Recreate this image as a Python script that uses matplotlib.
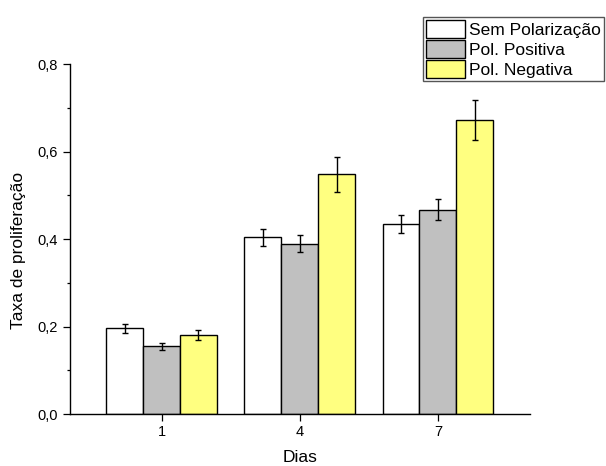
import numpy as np
import matplotlib
matplotlib.use("Agg")
import matplotlib.pyplot as plt
from matplotlib.ticker import MultipleLocator, FuncFormatter

plt.rcParams['font.family'] = ['Liberation Sans', 'DejaVu Sans']

# data
days = [1, 4, 7]
series = ['Sem Polarização', 'Pol. Positiva', 'Pol. Negativa']
sem_pol = [0.196, 0.404, 0.434]
sem_pol_err = [0.010, 0.020, 0.021]
pol_pos = [0.155, 0.390, 0.467]
pol_pos_err = [0.008, 0.020, 0.024]
pol_neg = [0.181, 0.548, 0.672]
pol_neg_err = [0.012, 0.039, 0.046]

colors = ['white', '#C0C0C0', '#FFFF80']

fig = plt.figure(figsize=(6.06, 4.66), dpi=100)
ax = fig.add_axes([69.5/606, 52/466, (530-69.5)/606, (414-64.3)/466])

x = np.array(days, dtype=float)
w = 0.8
vals = [sem_pol, pol_pos, pol_neg]
errs = [sem_pol_err, pol_pos_err, pol_neg_err]
for i in range(3):
    ax.bar(x + (i - 1) * w, vals[i], w, yerr=errs[i], color=colors[i],
           edgecolor='black', linewidth=1.0, label=series[i],
           error_kw=dict(ecolor='black', elinewidth=1.0, capsize=2.3, capthick=1.0))

ax.set_xlim(-1, 9)
ax.set_ylim(0, 0.8)
ax.set_xticks(days)
ax.set_xticklabels([str(d) for d in days])
ax.yaxis.set_major_locator(MultipleLocator(0.2))
ax.yaxis.set_minor_locator(MultipleLocator(0.1))
ax.yaxis.set_major_formatter(FuncFormatter(lambda v, p: ('%.1f' % v).replace('.', ',')))

ax.spines['top'].set_visible(False)
ax.spines['right'].set_visible(False)
for s in ['left', 'bottom']:
    ax.spines[s].set_linewidth(1.0)
ax.tick_params(which='major', direction='out', length=4.7, width=0.9, labelsize=10.5, pad=3.5)
ax.tick_params(which='minor', direction='out', length=2.3, width=0.9)

ax.set_xlabel('Dias', fontsize=12.5, labelpad=8)
ax.set_ylabel('Taxa de proliferação', fontsize=12.5)
ax.yaxis.set_label_coords(-0.094, 0.469)

leg = ax.legend(loc='upper left', bbox_to_anchor=(422.7/606, 1 - 16.7/466),
                bbox_transform=fig.transFigure, borderaxespad=0, fontsize=12.5,
                frameon=True, fancybox=False, shadow=False, framealpha=1,
                handlelength=2.25, handleheight=1.22, handletextpad=0.2,
                labelspacing=0.1, borderpad=0.2)
leg.get_frame().set_edgecolor('#555555')
leg.get_frame().set_linewidth(1.0)

fig.savefig('out.png', dpi=100)
